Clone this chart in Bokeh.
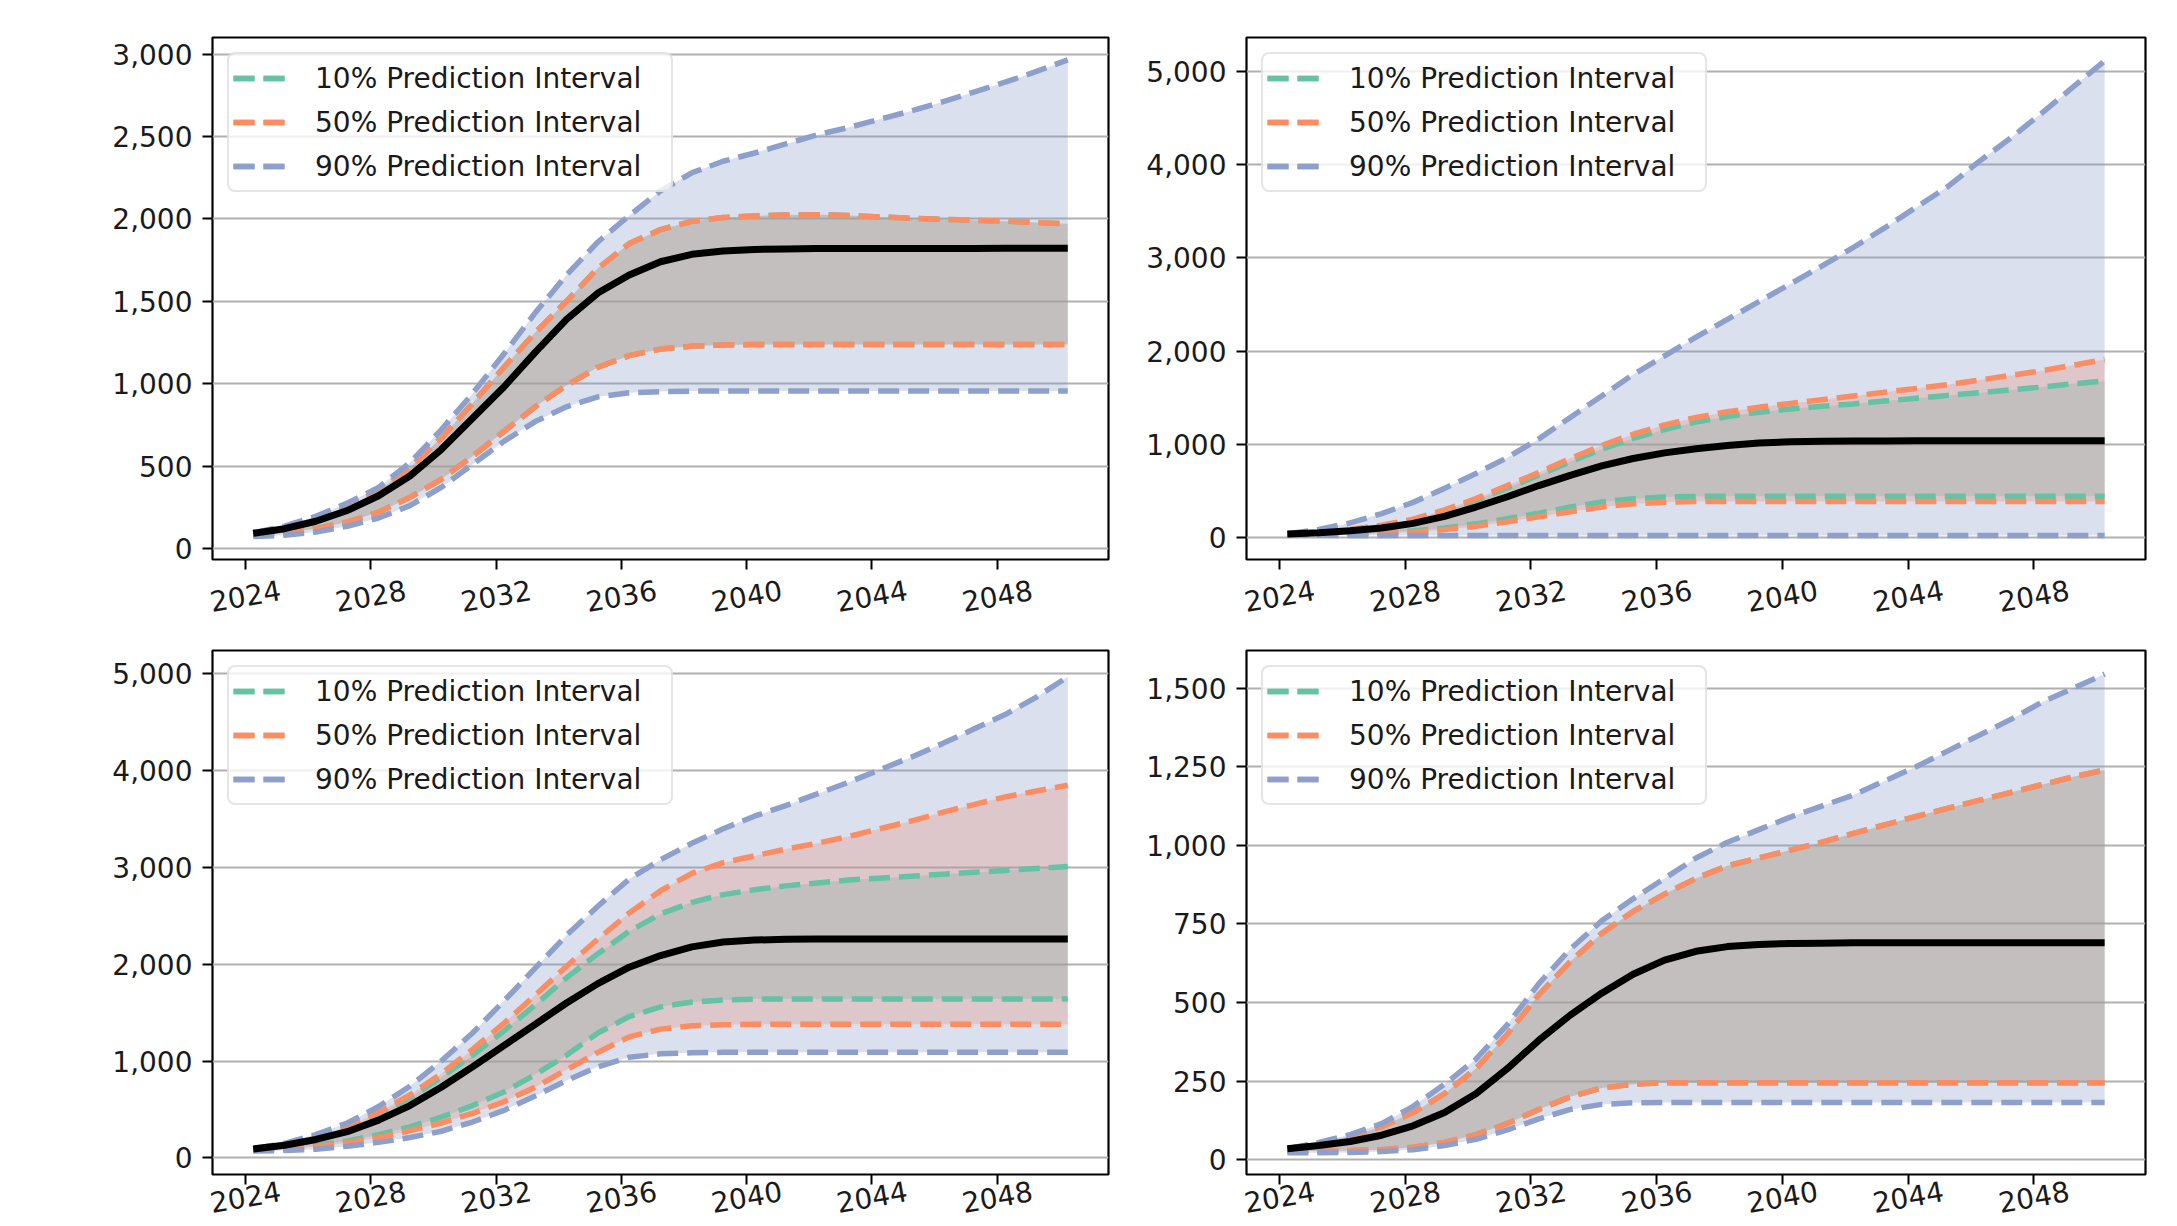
from bokeh.plotting import figure
from bokeh.layouts import column, row
from bokeh.models import (FixedTicker, NumeralTickFormatter, Range1d, Legend, LegendItem,
                          LinearAxis)
from bokeh.embed import file_html
from bokeh.resources import INLINE

# ---------------- data ----------------
years = [2024.25, 2025.25, 2026.25, 2027.25, 2028.25, 2029.25, 2030.25, 2031.25, 2032.25,
         2033.25, 2034.25, 2035.25, 2036.25, 2037.25, 2038.25, 2039.25, 2040.25, 2041.25,
         2042.25, 2043.25, 2044.25, 2045.25, 2046.25, 2047.25, 2048.25, 2049.25, 2050.25]
x_ticks = [2024, 2028, 2032, 2036, 2040, 2044, 2048]
x_tick_labels = ["2024", "2028", "2032", "2036", "2040", "2044", "2048"]
legend_labels = ["10% Prediction Interval", "50% Prediction Interval", "90% Prediction Interval"]

# top-left panel
tl_mean = [92, 120, 165, 230, 320, 440, 600, 790, 980, 1190, 1390, 1550, 1660, 1740, 1785, 1805,
           1815, 1818, 1820, 1820, 1820, 1820, 1821, 1821, 1822, 1822, 1822]
tl_p50_hi = [92, 125, 175, 250, 350, 490, 670, 880, 1100, 1310, 1500, 1700, 1850, 1935, 1985, 2008,
             2018, 2024, 2025, 2020, 2012, 2004, 1998, 1992, 1986, 1978, 1970]
tl_p50_lo = [80, 95, 120, 160, 220, 310, 420, 560, 710, 860, 990, 1100, 1170, 1210, 1228, 1235,
             1238, 1238, 1238, 1238, 1238, 1238, 1238, 1238, 1238, 1238, 1238]
tl_p10_hi = tl_p50_hi
tl_p10_lo = tl_p50_lo
tl_p90_hi = [96, 135, 195, 275, 370, 520, 720, 940, 1180, 1430, 1660, 1860, 2020, 2170, 2280, 2350,
             2400, 2455, 2510, 2555, 2605, 2655, 2710, 2770, 2830, 2895, 2965]
tl_p90_lo = [72, 80, 100, 135, 185, 260, 370, 510, 650, 770, 860, 920, 945, 952, 955, 955,
             955, 955, 955, 955, 955, 955, 955, 955, 955, 955, 955]

# top-right panel
tr_mean = [42, 55, 75, 105, 155, 230, 330, 440, 560, 670, 770, 850, 910, 955, 990, 1015,
           1030, 1035, 1038, 1038, 1039, 1039, 1040, 1040, 1040, 1040, 1040]
tr_p10_hi = [42, 58, 85, 128, 190, 285, 400, 535, 670, 815, 950, 1065, 1160, 1240, 1300, 1345,
             1380, 1410, 1435, 1465, 1495, 1525, 1555, 1585, 1615, 1650, 1680]
tr_p10_lo = [38, 40, 45, 55, 75, 105, 150, 205, 265, 330, 385, 420, 438, 444, 445, 445,
             445, 445, 445, 445, 445, 445, 445, 445, 445, 445, 445]
tr_p50_hi = [42, 60, 90, 135, 200, 300, 420, 560, 700, 850, 990, 1110, 1210, 1290, 1350, 1400,
             1440, 1480, 1520, 1560, 1600, 1640, 1690, 1740, 1790, 1850, 1910]
tr_p50_lo = [30, 32, 36, 45, 62, 88, 125, 172, 225, 280, 330, 365, 382, 388, 390, 390,
             390, 390, 390, 390, 390, 390, 390, 390, 390, 390, 390]
tr_p90_hi = [45, 90, 160, 260, 380, 530, 690, 860, 1060, 1290, 1520, 1750, 1950, 2150, 2340, 2530,
             2720, 2910, 3110, 3320, 3540, 3760, 4030, 4280, 4550, 4830, 5110]
tr_p90_lo = [30, 27, 25, 25, 25, 25, 25, 25, 25, 25, 25, 25, 25, 25, 25, 25,
             25, 25, 25, 25, 25, 25, 25, 25, 25, 25, 25]

# bottom-left panel
bl_mean = [92, 130, 190, 270, 390, 540, 730, 940, 1160, 1380, 1600, 1800, 1970, 2090, 2180, 2230,
           2250, 2258, 2260, 2260, 2260, 2260, 2260, 2260, 2260, 2260, 2260]
bl_p10_hi = [92, 138, 208, 305, 445, 620, 830, 1060, 1310, 1580, 1860, 2110, 2340, 2520, 2640, 2720,
             2770, 2810, 2840, 2870, 2890, 2910, 2930, 2950, 2970, 2990, 3010]
bl_p10_lo = [85, 100, 130, 175, 240, 320, 420, 540, 680, 860, 1060, 1290, 1460, 1560, 1610, 1630,
             1640, 1640, 1640, 1640, 1640, 1640, 1640, 1640, 1640, 1640, 1640]
bl_p50_hi = [92, 140, 215, 320, 470, 650, 870, 1120, 1390, 1680, 1980, 2260, 2530, 2760, 2940, 3050,
             3120, 3190, 3250, 3320, 3400, 3480, 3570, 3650, 3730, 3790, 3850]
bl_p50_lo = [80, 92, 115, 155, 210, 280, 360, 460, 580, 730, 910, 1090, 1250, 1330, 1365, 1375,
             1380, 1380, 1380, 1380, 1380, 1380, 1380, 1380, 1380, 1380, 1380]
bl_p90_hi = [95, 150, 240, 360, 530, 740, 1000, 1290, 1620, 1960, 2300, 2600, 2880, 3080, 3250, 3400,
             3530, 3640, 3760, 3880, 4010, 4140, 4280, 4430, 4580, 4760, 4970]
bl_p90_lo = [70, 75, 90, 120, 160, 210, 275, 370, 490, 640, 800, 940, 1040, 1075, 1085, 1090,
             1090, 1090, 1090, 1090, 1090, 1090, 1090, 1090, 1090, 1090, 1090]

# bottom-right panel
br_mean = [35, 45, 58, 78, 108, 150, 210, 290, 380, 460, 530, 590, 635, 663, 678, 685,
           688, 689, 690, 690, 690, 690, 690, 690, 690, 690, 690]
br_p50_hi = [35, 52, 75, 105, 150, 210, 290, 400, 525, 630, 720, 790, 845, 895, 935, 960,
             985, 1010, 1038, 1065, 1092, 1118, 1143, 1168, 1193, 1218, 1240]
br_p50_lo = [28, 28, 29, 32, 40, 55, 80, 115, 160, 200, 228, 240, 245, 245, 245, 245,
             245, 245, 245, 245, 245, 245, 245, 245, 245, 245, 245]
br_p10_hi = br_p50_hi
br_p10_lo = br_p50_lo
br_p90_hi = [35, 55, 80, 115, 170, 240, 320, 430, 560, 670, 760, 830, 895, 960, 1010, 1050,
             1090, 1125, 1160, 1205, 1250, 1300, 1350, 1400, 1455, 1500, 1545]
br_p90_lo = [22, 22, 23, 26, 32, 45, 65, 95, 130, 160, 176, 181, 182, 182, 182, 182,
             182, 182, 182, 182, 182, 182, 182, 182, 182, 182, 182]

tl_yticks = [0, 500, 1000, 1500, 2000, 2500, 3000]
tr_yticks = [0, 1000, 2000, 3000, 4000, 5000]
bl_yticks = [0, 1000, 2000, 3000, 4000, 5000]
br_yticks = [0, 250, 500, 750, 1000, 1250, 1500]

# ---------------- styling ----------------
C10, C50, C90 = "#66c2a5", "#fc8d62", "#8da0cb"
F10, F50, F90 = "#87ada5", "#e79076", "#8498c6"
FONT = "DejaVu Sans"
FS_PX = 28
FS = f"{FS_PX}px"
TXT = "#1a1a1a"
X_RANGE = (2022.95, 2051.55)
DASH = "21 9"
LW = 5.5
ROT = 0.17


def make_panel(mean, lo10, hi10, lo50, hi50, lo90, hi90, yticks, yrange,
               width, height, bl, br, bt, bb, lab_standoff):
    p = figure(width=width, height=height, output_backend="svg", toolbar_location=None,
               x_range=Range1d(*X_RANGE), y_range=Range1d(*yrange),
               min_border_left=bl, min_border_right=br, min_border_top=bt, min_border_bottom=bb)
    p.background_fill_color = "white"
    p.border_fill_color = "white"
    p.outline_line_color = "black"
    p.outline_line_width = 2.2
    p.xgrid.visible = False
    p.ygrid.grid_line_color = "#b0b0b0"
    p.ygrid.grid_line_width = 2

    for ax in (p.xaxis[0], p.yaxis[0]):
        ax.axis_line_color = None
        ax.major_tick_line_color = "black"
        ax.major_tick_line_width = 2
        ax.major_tick_out = 10
        ax.major_tick_in = 0
        ax.minor_tick_line_color = None
        ax.major_label_text_font = FONT
        ax.major_label_text_font_size = FS
        ax.major_label_text_color = TXT
        ax.major_label_standoff = 10
    # tick marks only on the main x axis
    p.xaxis.ticker = FixedTicker(ticks=x_ticks)
    p.xaxis.major_label_overrides = {t: "" for t in x_ticks}
    p.xaxis.major_label_text_font_size = "1px"
    p.xaxis.major_label_standoff = 0
    p.yaxis.ticker = FixedTicker(ticks=yticks)
    p.yaxis.formatter = NumeralTickFormatter(format="0,0")

    # second, tick-less axis carrying slanted year labels; Bokeh right-aligns
    # rotated labels, so they are anchored half a label width to the right of each tick
    frame_w = width - bl - br
    half_label = 0.5 * 4 * 0.636 * FS_PX * 0.985
    shift = half_label * (X_RANGE[1] - X_RANGE[0]) / frame_w
    lab_pos = [t + shift for t in x_ticks]
    lab_ax = LinearAxis(ticker=FixedTicker(ticks=lab_pos),
                        major_label_overrides={pos: s for pos, s in zip(lab_pos, x_tick_labels)})
    lab_ax.axis_line_color = None
    lab_ax.major_tick_line_color = None
    lab_ax.major_tick_out = 0
    lab_ax.major_tick_in = 0
    lab_ax.minor_tick_line_color = None
    lab_ax.major_label_text_font = FONT
    lab_ax.major_label_text_font_size = FS
    lab_ax.major_label_text_color = TXT
    lab_ax.major_label_orientation = ROT
    lab_ax.major_label_standoff = lab_standoff
    p.add_layout(lab_ax, "below")

    p.varea(x=years, y1=lo90, y2=hi90, fill_color=F90, fill_alpha=0.3)
    p.varea(x=years, y1=lo50, y2=hi50, fill_color=F50, fill_alpha=0.3)
    p.varea(x=years, y1=lo10, y2=hi10, fill_color=F10, fill_alpha=0.3)

    items = []
    for lo, hi, col, lab in ((lo10, hi10, C10, legend_labels[0]),
                             (lo50, hi50, C50, legend_labels[1]),
                             (lo90, hi90, C90, legend_labels[2])):
        r1 = p.line(years, hi, line_color=col, line_width=LW, line_dash=DASH)
        r2 = p.line(years, lo, line_color=col, line_width=LW, line_dash=DASH)
        items.append(LegendItem(label=lab, renderers=[r1, r2]))
    p.line(years, mean, line_color="black", line_width=7)

    leg = Legend(items=items, location="top_left")
    leg.margin = 15
    leg.padding = 4
    leg.spacing = 4
    leg.label_height = 40
    leg.glyph_height = 20
    leg.glyph_width = 53
    leg.label_standoff = 29
    leg.label_width = 352
    leg.label_text_font = FONT
    leg.label_text_font_size = FS
    leg.label_text_color = TXT
    leg.border_line_color = "#cccccc"
    leg.border_line_width = 2
    leg.background_fill_color = "white"
    leg.background_fill_alpha = 0.8
    if "border_radius" in Legend.properties():
        leg.border_radius = 8
    p.add_layout(leg, "center")
    return p


W1, W2 = 1138, 1027
H1, H2 = 634, 592

p1 = make_panel(tl_mean, tl_p10_lo, tl_p10_hi, tl_p50_lo, tl_p50_hi, tl_p90_lo, tl_p90_hi,
                tl_yticks, (-67, 3101), W1, H1, 212, 30, 37, 75, 20)
p2 = make_panel(tr_mean, tr_p10_lo, tr_p10_hi, tr_p50_lo, tr_p50_hi, tr_p90_lo, tr_p90_hi,
                tr_yticks, (-232, 5360), W2, H1, 108, 20, 37, 75, 20)
p3 = make_panel(bl_mean, bl_p10_lo, bl_p10_hi, bl_p50_lo, bl_p50_hi, bl_p90_lo, bl_p90_hi,
                bl_yticks, (-172, 5242), W1, H2, 212, 30, 16, 50, 6)
p4 = make_panel(br_mean, br_p10_lo, br_p10_hi, br_p50_lo, br_p50_hi, br_p90_lo, br_p90_hi,
                br_yticks, (-47, 1620), W2, H2, 108, 20, 16, 50, 6)

layout = column(row(p1, p2), row(p3, p4))
open("out.html", "w").write(file_html(layout, INLINE))
